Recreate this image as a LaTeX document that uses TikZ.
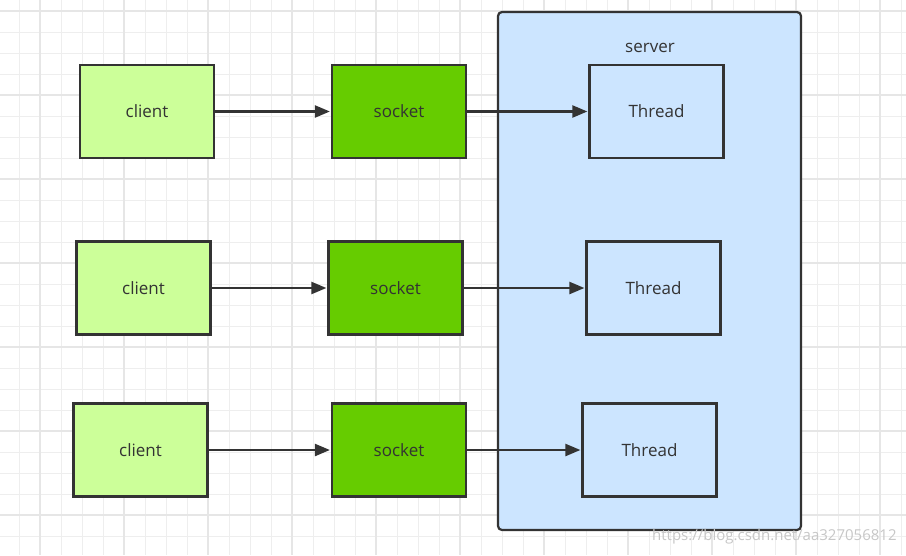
\documentclass[tikz,border=0pt]{standalone}
\usepackage{fontspec}
\setmainfont{Open Sans}
\usetikzlibrary{arrows.meta}
\definecolor{gridc}{HTML}{EEEEEE}
\definecolor{gridd}{HTML}{E6E6E6}
\definecolor{ink}{HTML}{333333}
\definecolor{clientc}{HTML}{CCFF99}
\definecolor{socketc}{HTML}{66CC00}
\definecolor{serverc}{HTML}{CCE5FF}
\tikzset{
  box/.style={draw=ink, line width=2.2pt, minimum width=134pt, minimum height=93pt, inner sep=0pt, text=ink, font=\fontsize{17}{20}\selectfont},
  clientbox/.style={box, fill=clientc},
  socketbox/.style={box, fill=socketc},
  threadbox/.style={box, fill=serverc},
  conn/.style={draw=ink, line width=2.2pt, -{Triangle[length=15pt,width=12pt]}, shorten >=1pt},
}
\begin{document}
\begin{tikzpicture}[x=1pt,y=-1pt]
\useasboundingbox (0,0) rectangle (906,555);
\fill[white] (0,0) rectangle (906,555);
% grid
\foreach \i in {0,...,43} {
  \pgfmathsetmacro{\xx}{19+21*\i}
  \draw[gridc, line width=1pt] (\xx,0) -- (\xx,555);
}
\foreach \i in {0,...,26} {
  \pgfmathsetmacro{\yy}{11+21*\i}
  \draw[gridc, line width=1pt] (0,\yy) -- (906,\yy);
}
\foreach \i in {0,...,10} {
  \pgfmathsetmacro{\xx}{40+84*\i}
  \draw[gridd, line width=1.5pt] (\xx,0) -- (\xx,555);
}
\foreach \i in {0,...,6} {
  \pgfmathsetmacro{\yy}{11+84*\i}
  \draw[gridd, line width=1.5pt] (0,\yy) -- (906,\yy);
}
% server
\node[draw=ink, line width=2.2pt, fill=serverc, rounded corners=4pt, minimum width=303pt, minimum height=518pt, inner sep=0pt] (server) at (649.5,271) {};
\node[text=ink, font=\fontsize{17}{20}\selectfont] (serverlabel) at (650,48) {server};
% clients
\node[clientbox] (c1) at (147,111.5) {client};
\node[clientbox] (c2) at (143.5,288) {client};
\node[clientbox] (c3) at (140.5,450) {client};
% sockets
\node[socketbox] (s1) at (399,111.5) {socket};
\node[socketbox] (s2) at (395.5,288) {socket};
\node[socketbox] (s3) at (399,450) {socket};
% threads
\node[threadbox] (t1) at (656.5,111.5) {Thread};
\node[threadbox] (t2) at (653.5,288) {Thread};
\node[threadbox] (t3) at (649.5,450) {Thread};
% connectors
\draw[conn] (c1) -- (s1);
\draw[conn] (c2) -- (s2);
\draw[conn] (c3) -- (s3);
\draw[conn] (s1) -- (t1);
\draw[conn] (s2) -- (t2);
\draw[conn] (s3) -- (t3);
% watermark
\node[text=black!22, font=\fontsize{15}{18}\selectfont, anchor=west, inner sep=0pt] (wm) at (652,537) {https://blog.csdn.net/aa327056812};
\end{tikzpicture}
\end{document}
